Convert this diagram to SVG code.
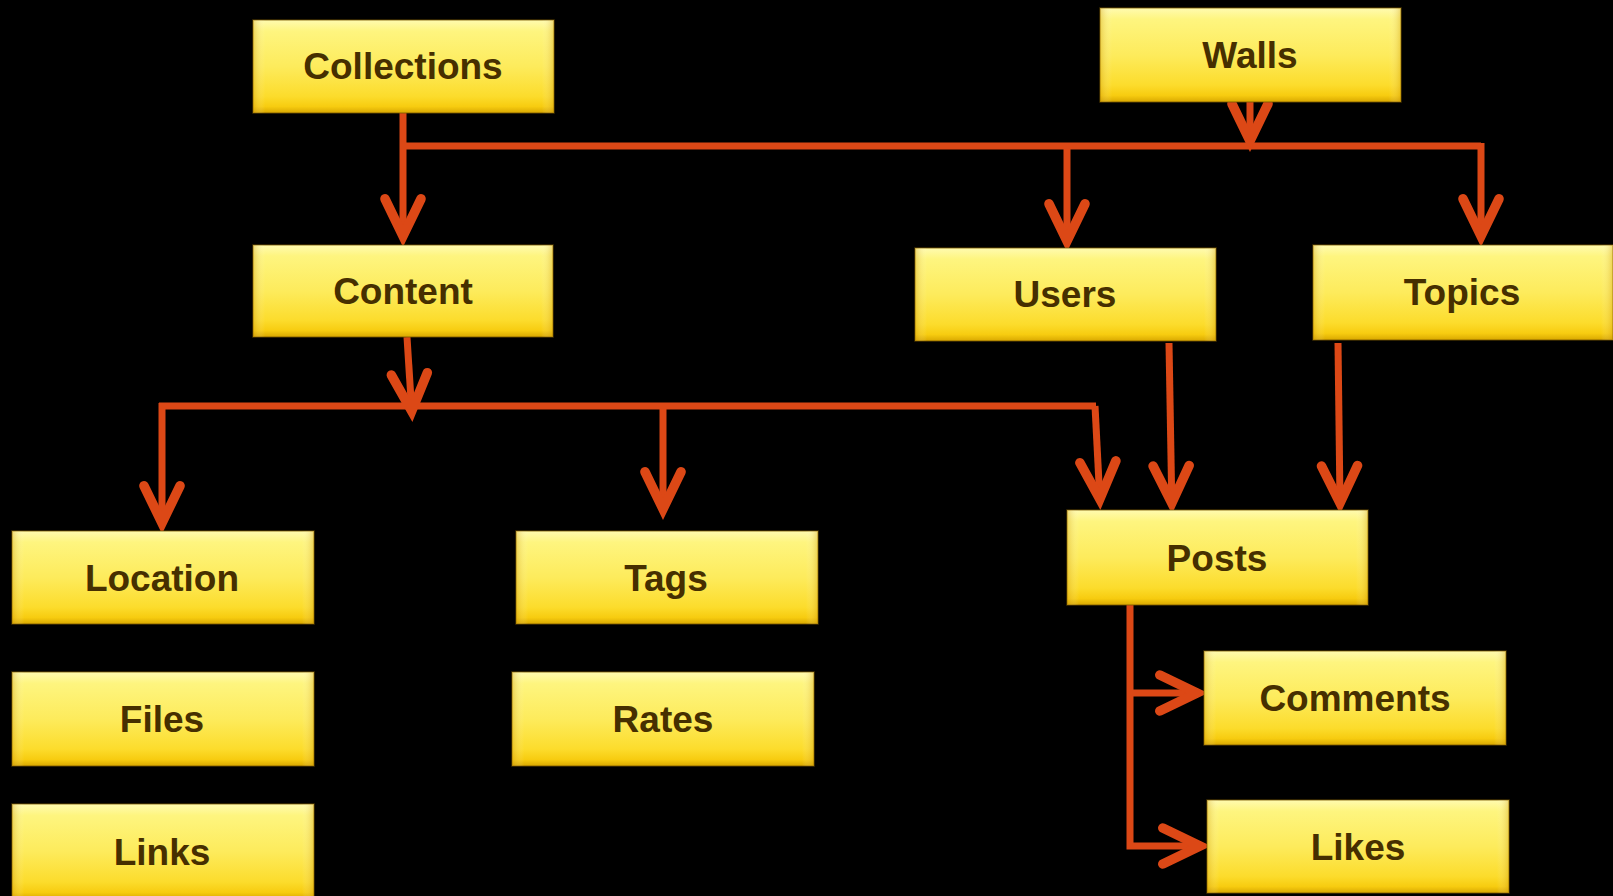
<svg xmlns="http://www.w3.org/2000/svg" width="1613" height="896" viewBox="0 0 1613 896">
<defs>
<linearGradient id="gv" x1="0" y1="0" x2="0" y2="1">
<stop offset="0" stop-color="#fffbb0"/>
<stop offset="0.12" stop-color="#fef57f"/>
<stop offset="0.5" stop-color="#fdeb5c"/>
<stop offset="0.82" stop-color="#fcdc2c"/>
<stop offset="0.93" stop-color="#f7cc10"/>
<stop offset="1" stop-color="#d9a800"/>
</linearGradient>
<linearGradient id="gh" x1="0" y1="0" x2="1" y2="0">
<stop offset="0" stop-color="#c89000" stop-opacity="0.35"/>
<stop offset="0.04" stop-color="#ffffff" stop-opacity="0"/>
<stop offset="0.96" stop-color="#ffffff" stop-opacity="0"/>
<stop offset="1" stop-color="#c89000" stop-opacity="0.35"/>
</linearGradient>
<marker id="ah" markerUnits="userSpaceOnUse" markerWidth="60" markerHeight="60" viewBox="-40 -25 50 50" refX="0" refY="0" orient="auto" overflow="visible">
<path d="M-31,-15 L0,0 L-31,15" fill="none" stroke="#dc4816" stroke-width="8" stroke-linecap="round" stroke-linejoin="miter"/>
</marker>
</defs>
<style>
.box{fill:url(#gv);stroke:#7a5a00;stroke-opacity:0.55;stroke-width:1.5}
.ov{fill:url(#gh);stroke:none}
.lbl{font-family:"Liberation Sans",Arial,sans-serif;font-weight:bold;font-size:37px;fill:#462f00;text-anchor:middle}
.c{fill:none;stroke:#dc4816;stroke-width:7;stroke-linejoin:miter}
.a{marker-end:url(#ah)}
</style>
<rect width="1613" height="896" fill="#000"/>
<g id="connectors">
<path class="c" d="M403,146 H1481"/>
<path class="c a" d="M403,113 V236"/>
<path class="c a" d="M1250,102 V141"/>
<path class="c a" d="M1067,146 V241"/>
<path class="c a" d="M1481,143 V236"/>
<path class="c a" d="M407,337 L411.7,411"/>
<path class="c" d="M159,406 H1096"/>
<path class="c a" d="M162,403 V523"/>
<path class="c a" d="M663,406 V509"/>
<path class="c a" d="M1095,406 L1099.8,499"/>
<path class="c a" d="M1169,343 L1171.8,503"/>
<path class="c a" d="M1338,343 L1340,503"/>
<path class="c a" d="M1130,605 V846 H1200"/>
<path class="c a" d="M1130,693 H1197"/>
</g>
<g id="collections"><rect class="box" x="253" y="20" width="301" height="93"/><rect class="ov" x="253" y="20" width="301" height="93"/><text class="lbl" x="403" y="79">Collections</text></g>
<g id="walls"><rect class="box" x="1100" y="8" width="301" height="94"/><rect class="ov" x="1100" y="8" width="301" height="94"/><text class="lbl" x="1250" y="68">Walls</text></g>
<g id="content"><rect class="box" x="253" y="245" width="300" height="92"/><rect class="ov" x="253" y="245" width="300" height="92"/><text class="lbl" x="403" y="304">Content</text></g>
<g id="users"><rect class="box" x="915" y="248" width="301" height="93"/><rect class="ov" x="915" y="248" width="301" height="93"/><text class="lbl" x="1065" y="307">Users</text></g>
<g id="topics"><rect class="box" x="1313" y="245" width="300" height="95"/><rect class="ov" x="1313" y="245" width="300" height="95"/><text class="lbl" x="1462" y="305">Topics</text></g>
<g id="location"><rect class="box" x="12" y="531" width="302" height="93"/><rect class="ov" x="12" y="531" width="302" height="93"/><text class="lbl" x="162" y="591">Location</text></g>
<g id="tags"><rect class="box" x="516" y="531" width="302" height="93"/><rect class="ov" x="516" y="531" width="302" height="93"/><text class="lbl" x="666" y="591">Tags</text></g>
<g id="posts"><rect class="box" x="1067" y="510" width="301" height="95"/><rect class="ov" x="1067" y="510" width="301" height="95"/><text class="lbl" x="1217" y="571">Posts</text></g>
<g id="files"><rect class="box" x="12" y="672" width="302" height="94"/><rect class="ov" x="12" y="672" width="302" height="94"/><text class="lbl" x="162" y="732">Files</text></g>
<g id="rates"><rect class="box" x="512" y="672" width="302" height="94"/><rect class="ov" x="512" y="672" width="302" height="94"/><text class="lbl" x="663" y="732">Rates</text></g>
<g id="links"><rect class="box" x="12" y="804" width="302" height="95"/><rect class="ov" x="12" y="804" width="302" height="95"/><text class="lbl" x="162" y="865">Links</text></g>
<g id="comments"><rect class="box" x="1204" y="651" width="302" height="94"/><rect class="ov" x="1204" y="651" width="302" height="94"/><text class="lbl" x="1355" y="711">Comments</text></g>
<g id="likes"><rect class="box" x="1207" y="800" width="302" height="93"/><rect class="ov" x="1207" y="800" width="302" height="93"/><text class="lbl" x="1358" y="860">Likes</text></g>
</svg>
